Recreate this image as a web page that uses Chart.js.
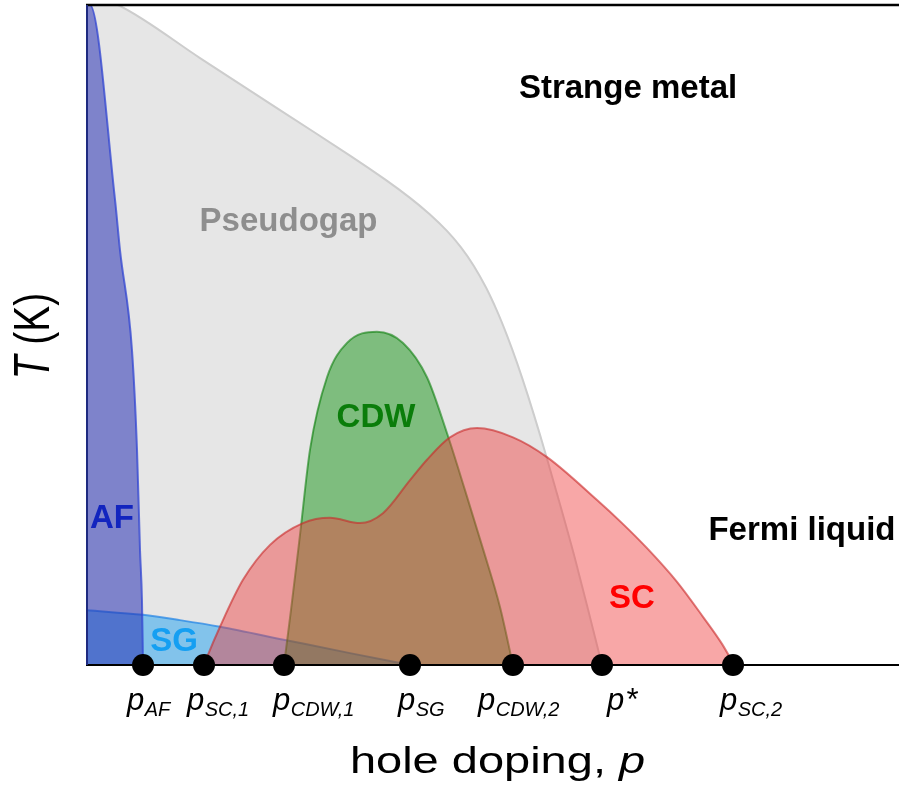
<!DOCTYPE html>
<html><head><meta charset="utf-8">
<script src="https://cdn.jsdelivr.net/npm/chart.js@4.4.1/dist/chart.umd.min.js"></script>
<style>html,body{margin:0;padding:0;background:#fff;} canvas{display:block;}</style>
</head><body>
<canvas id="c" width="899" height="791"></canvas>
<script>
// hole doping p and temperature T, both in arbitrary units (0..100)
const pgP  = [0, 3.82, 13.92, 23.77, 32.39, 36.70, 39.78, 42.24, 44.33, 46.06, 47.66, 49.14, 50.49, 51.72, 52.96, 54.31, 55.79, 57.51, 60.10, 63.42];
const pgT  = [100, 100, 91.96, 84.08, 77.19, 73.58, 70.78, 68.26, 65.77, 63.28, 60.43, 57.19, 53.66, 49.95, 45.78, 40.78, 34.87, 27.55, 16.10, 0];
const afP  = [0, 0.37, 3.45, 4.06, 5.54, 6.16, 6.53, 6.77, 6.90];
const afT  = [100, 100, 70.5, 62.9, 47.7, 32.6, 17.4, 9.8, 0];
const sgP  = [0, 6.90, 11.45, 16.38, 24.38, 32.39, 39.78];
const sgT  = [8.3, 7.6, 6.8, 5.8, 3.8, 1.8, 0];
const cdwP = [24.26, 25.12, 26.23, 27.46, 29.56, 32.02, 35.71, 38.92, 41.87, 44.33, 46.55, 48.77, 50.86, 52.46];
const cdwT = [0, 8.3, 19.7, 32.6, 43.6, 48.8, 50.5, 48.8, 43.6, 35.15, 26.5, 17.6, 8.8, 0];
const scP  = [14.41, 14.78, 16.38, 19.21, 22.54, 26.60, 29.93, 33.62, 36.45, 39.78, 41.87, 44.70, 48.03, 52.46, 56.65, 62.81, 65.89, 68.97, 72.66, 75.86, 78.20, 79.70];
const scT  = [0, 1.2, 5.8, 12.9, 18.2, 21.5, 22.3, 21.5, 23.0, 28.0, 31.1, 34.5, 35.9, 34.5, 31.5, 25.0, 21.5, 17.7, 12.6, 7.3, 3.2, 0];
// critical dopings (tick marks on the p axis)
const tickP   = [6.90, 14.41, 24.26, 39.78, 52.46, 63.42, 79.56];
const tickSub = ['AF', 'SC,1', 'CDW,1', 'SG', 'CDW,2', '*', 'SC,2'];
// phase names
const regionNames = ['Strange metal', 'Pseudogap', 'CDW', 'SC', 'AF', 'SG', 'Fermi liquid'];

const FONT = '"Liberation Sans", Arial, Helvetica, sans-serif';
const pts = (xs, ys) => xs.map((x, i) => ({x: x, y: ys[i]}));

function region(label, xs, ys, fill, border, order) {
  return {
    label: label, data: pts(xs, ys), order: order,
    backgroundColor: fill, borderColor: border, borderWidth: 2,
    fill: 'origin', pointRadius: 0, cubicInterpolationMode: 'monotone'
  };
}

const decor = {
  id: 'decor',
  beforeDatasetDraw(chart, args) {
    if (args.index !== 0) return;
    const ctx = chart.ctx, a = chart.chartArea;
    ctx.save();
    ctx.lineCap = 'butt';
    ctx.strokeStyle = '#000';
    ctx.lineWidth = 2.5;
    ctx.beginPath(); ctx.moveTo(a.left - 1, a.top); ctx.lineTo(a.right, a.top); ctx.stroke();
    ctx.lineWidth = 2;
    ctx.beginPath(); ctx.moveTo(a.left - 1, a.bottom); ctx.lineTo(a.right, a.bottom); ctx.stroke();
    ctx.strokeStyle = '#1e2a80';
    ctx.beginPath(); ctx.moveTo(a.left, a.top); ctx.lineTo(a.left, a.bottom); ctx.stroke();
    ctx.restore();
  },
  afterDraw(chart) {
    const ctx = chart.ctx, a = chart.chartArea;
    const xs = chart.scales.x, ys = chart.scales.y;
    ctx.save();
    // phase labels
    const pos = [[66.63, 85.91], [24.82, 65.76], [35.59, 36.06], [67.12, 8.64], [3.08, 20.76], [10.71, 2.12], [88.05, 18.94]];
    const cols = ['#000000', '#8e8e8e', '#0a7d0a', '#ff0000', '#1224bf', '#159ff2', '#000000'];
    ctx.textAlign = 'center'; ctx.textBaseline = 'alphabetic';
    ctx.font = 'bold 33px ' + FONT;
    regionNames.forEach((n, i) => {
      ctx.fillStyle = cols[i];
      ctx.fillText(n, xs.getPixelForValue(pos[i][0]), ys.getPixelForValue(pos[i][1]));
    });
    // tick labels
    ctx.textAlign = 'left';
    ctx.fillStyle = '#000';
    const off = [-16, -17, -11, -12, -35, 5, -13];
    tickP.forEach((p, i) => {
      const x = xs.getPixelForValue(p) + off[i];
      ctx.font = 'italic 31px ' + FONT;
      ctx.fillText('p', x, a.bottom + 45);
      const w = ctx.measureText('p').width;
      if (tickSub[i] === '*') {
        ctx.fillText('*', x + w + 1, a.bottom + 45);
      } else {
        ctx.font = 'italic 20px ' + FONT;
        ctx.fillText(tickSub[i], x + w + 0.5, a.bottom + 51);
      }
    });
    // x axis title
    ctx.save();
    ctx.translate(497.5, 773);
    ctx.scale(1.27, 1);
    ctx.font = '37px ' + FONT;
    const t1 = 'hole doping, ';
    const w1 = ctx.measureText(t1).width;
    ctx.font = 'italic 37px ' + FONT;
    const w2 = ctx.measureText('p').width;
    let sx = -(w1 + w2) / 2;
    ctx.font = '37px ' + FONT;
    ctx.fillText(t1, sx, 0);
    ctx.font = 'italic 37px ' + FONT;
    ctx.fillText('p', sx + w1, 0);
    ctx.restore();
    // y axis title
    ctx.save();
    ctx.translate(49, 336);
    ctx.rotate(-Math.PI / 2);
    ctx.scale(1, 1.27);
    ctx.font = 'italic 39px ' + FONT;
    const wT = ctx.measureText('T').width;
    ctx.font = '39px ' + FONT;
    const wK = ctx.measureText(' (K)').width;
    const s0 = -(wT + wK) / 2;
    ctx.font = 'italic 39px ' + FONT;
    ctx.fillText('T', s0, 0);
    ctx.font = '39px ' + FONT;
    ctx.fillText(' (K)', s0 + wT, 0);
    ctx.restore();
    ctx.restore();
  }
};

const pgSet = region('Pseudogap', pgP, pgT, 'rgb(230,230,230)', 'rgb(205,205,205)', 5);
pgSet.cubicInterpolationMode = 'default';
pgSet.tension = 0.3;

new Chart(document.getElementById('c'), {
  type: 'line',
  data: {
    datasets: [
      { label: 'critical dopings', data: tickP.map(p => ({x: p, y: 0})), order: 0,
        showLine: false, pointRadius: 11, pointHoverRadius: 11, pointBackgroundColor: '#000',
        pointBorderColor: '#000', pointBorderWidth: 0, clip: false },
      region('SC', scP, scT, 'rgba(240,60,60,0.45)', 'rgba(200,40,40,0.6)', 1),
      region('CDW', cdwP, cdwT, 'rgba(0,140,0,0.45)', 'rgba(0,120,0,0.55)', 2),
      region('AF', afP, afT, 'rgba(40,50,180,0.55)', 'rgba(50,70,210,0.75)', 3),
      region('SG', sgP, sgT, 'rgba(30,160,240,0.5)', 'rgba(30,130,230,0.7)', 4),
      pgSet
    ]
  },
  options: {
    responsive: false, animation: false, events: [],
    layout: { autoPadding: false, padding: { left: 87, right: 0, top: 5, bottom: 126 } },
    scales: {
      x: { type: 'linear', min: 0, max: 100, display: false },
      y: { type: 'linear', min: 0, max: 100, display: false }
    },
    plugins: { legend: { display: false }, tooltip: { enabled: false } }
  },
  plugins: [decor]
});
</script>
</body></html>
